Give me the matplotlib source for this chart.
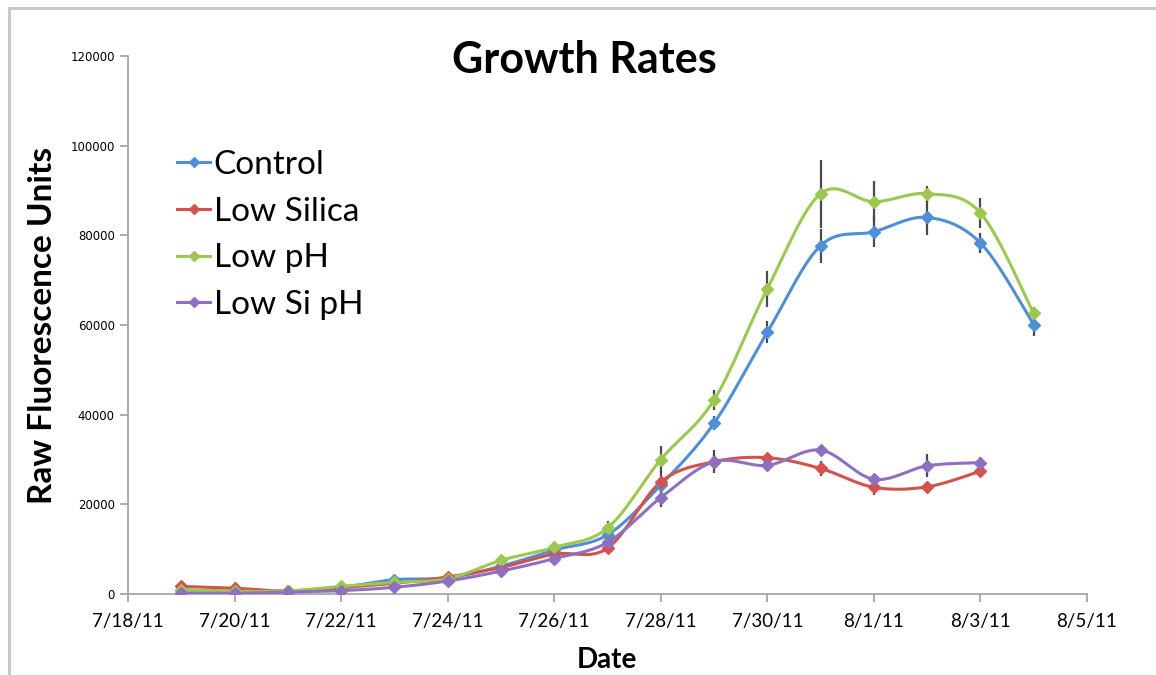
import numpy as np
import pandas as pd
import matplotlib.pyplot as plt
import matplotlib.dates as mdates
from matplotlib.patches import Rectangle
from matplotlib.lines import Line2D

# sampling dates (daily, 7/19/11 - 8/4/11)
dates = pd.to_datetime(['2011-07-19', '2011-07-20', '2011-07-21', '2011-07-22', '2011-07-23',
                        '2011-07-24', '2011-07-25', '2011-07-26', '2011-07-27', '2011-07-28',
                        '2011-07-29', '2011-07-30', '2011-07-31', '2011-08-01', '2011-08-02',
                        '2011-08-03', '2011-08-04'])

control = [900, 600, 650, 1500, 3200, 3600, 6200, 9800, 13200, 24300,
           38100, 58400, 77700, 80800, 84000, 78300, 60100]
low_silica = [1700, 1300, 650, 1400, 2400, 3800, 5900, 8900, 10200, 25000,
              29500, 30400, 28000, 23800, 23900, 27400]
low_ph = [900, 600, 700, 1700, 2600, 3400, 7500, 10400, 14700, 30000,
          43300, 68100, 89300, 87500, 89300, 85000, 62600]
low_si_ph = [150, 150, 450, 750, 1500, 2900, 5100, 7900, 11500, 21500,
             29500, 28700, 32100, 25600, 28600, 29300]

# error bar half-lengths (0 = no visible bar)
control_err = [0, 0, 0, 0, 0, 0, 0, 0, 800, 1500, 1500, 2400, 3800, 3500, 3900, 2200, 2600]
low_silica_err = [0, 0, 0, 0, 0, 0, 0, 0, 0, 2500, 1500, 1000, 1600, 1800, 0, 800]
low_ph_err = [0, 0, 0, 0, 0, 0, 0, 0, 1500, 3000, 2300, 4000, 7600, 4600, 1800, 3400, 1500]
low_si_ph_err = [0, 0, 0, 0, 0, 0, 0, 0, 0, 2000, 2600, 0, 0, 0, 2600, 1200]

series = [('Control', control, control_err, '#4f8fd6'),
          ('Low Silica', low_silica, low_silica_err, '#d4524e'),
          ('Low pH', low_ph, low_ph_err, '#9cc850'),
          ('Low Si pH', low_si_ph, low_si_ph_err, '#8f70c0')]

xmin, xmax = mdates.date2num(pd.Timestamp('2011-07-18')), mdates.date2num(pd.Timestamp('2011-08-05'))
ymin, ymax = 0, 120000

# axes box in pixels
L, R, B, T = 128, 1087, 594, 56


def smooth(x, y, sx, sy, n=30):
    # Excel-like smoothed line: Catmull-Rom style Bezier in pixel space
    px = (np.asarray(x) - xmin) * sx
    py = (np.asarray(y) - ymin) * sy
    P = np.column_stack([px, py])
    out = []
    for i in range(len(P) - 1):
        p0 = P[i - 1] if i > 0 else P[i]
        p1, p2 = P[i], P[i + 1]
        p3 = P[i + 2] if i + 2 < len(P) else P[i + 1]
        c1 = p1 + (p2 - p0) / 6.0
        c2 = p2 - (p3 - p1) / 6.0
        t = np.linspace(0, 1, n)[:, None]
        seg = ((1 - t) ** 3) * p1 + 3 * ((1 - t) ** 2) * t * c1 + 3 * (1 - t) * t ** 2 * c2 + t ** 3 * p2
        out.append(seg)
    seg = np.vstack(out)
    return seg[:, 0] / sx + xmin, seg[:, 1] / sy + ymin


fig = plt.figure(figsize=(11.56, 6.75), dpi=100)
fig.patches.append(Rectangle((9 / 1156, -0.1), 1.2, (675 - 8) / 675 + 0.1, transform=fig.transFigure,
                             fill=False, edgecolor='#c8c8c8', linewidth=2.2))
ax = fig.add_axes([L / 1156, (675 - B) / 675, (R - L) / 1156, (B - T) / 675])

# pixel scale factors for smoothing
sx = (R - L) / (xmax - xmin)
sy = (B - T) / (ymax - ymin)

handles = []
for name, vals, errs, col in series:
    d = mdates.date2num(dates[:len(vals)])
    sxs, sys_ = smooth(d, vals, sx, sy)
    ax.plot(sxs, sys_, color=col, linewidth=2.2, solid_capstyle='round', zorder=3)
    e = np.array(errs, dtype=float)
    m = e > 0
    ax.errorbar(d[m], np.array(vals)[m], yerr=e[m], fmt='none', ecolor='#4a4a4a',
                elinewidth=1.6, capsize=0, zorder=2)
    ax.plot(d, vals, linestyle='none', marker='D', markersize=6, color=col,
            markeredgecolor=col, zorder=4)
    handles.append(Line2D([], [], color=col, linewidth=2.2, marker='D', markersize=5, label=name))

ax.set_xlim(xmin, xmax)
ax.set_ylim(ymin, ymax)
ticks = pd.date_range('2011-07-18', '2011-08-05', freq='2D')
ax.set_xticks(mdates.date2num(ticks))
ax.set_xticklabels([f'{t.month}/{t.day}/11' for t in ticks], fontsize=13.5, family='Lato')
ax.set_yticks(np.arange(0, 120001, 20000))
ax.set_yticklabels([str(v) for v in range(0, 120001, 20000)], fontsize=8.5, family='DejaVu Sans')

for s in ['top', 'right']:
    ax.spines[s].set_visible(False)
for s in ['left', 'bottom']:
    ax.spines[s].set_color('#a6a6a6')
    ax.spines[s].set_linewidth(1.3)
ax.tick_params(axis='both', colors='#a6a6a6', length=6, width=1.3, labelcolor='black')
ax.tick_params(axis='x', pad=8)

fig.text(584 / 1156, 1 - 60 / 675, 'Growth Rates', ha='center', va='center',
         fontsize=31, fontweight='bold', family='Lato')
fig.text(607 / 1156, 1 - 660 / 675, 'Date', ha='center', va='center',
         fontsize=20, fontweight='bold', family='Lato')
fig.text(43 / 1156, 1 - 325 / 675, 'Raw Fluorescence Units', rotation=90, ha='center', va='center',
         fontsize=24, fontweight='bold', family='Lato')

ax.legend(handles=handles, loc='upper left', bbox_to_anchor=((177 - L) / (R - L), (B - 150) / (B - T)),
          frameon=False, prop={'family': 'Lato', 'size': 24}, handlelength=1.0, handletextpad=0.1,
          labelspacing=0.5, borderaxespad=0, borderpad=0)

plt.savefig('out.png', dpi=100)
